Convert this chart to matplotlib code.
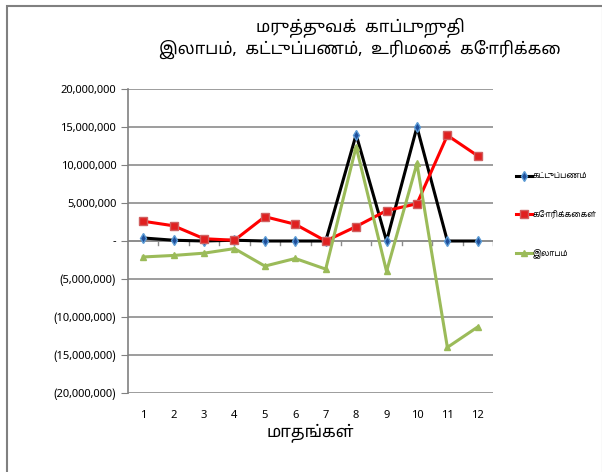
import matplotlib.pyplot as plt
from matplotlib.patches import Rectangle
from matplotlib.ticker import FuncFormatter

plt.rcParams['font.family'] = ['Noto Sans Tamil', 'Liberation Sans', 'DejaVu Sans']

# தரவு (மாதம் 1-12)
months = [1, 2, 3, 4, 5, 6, 7, 8, 9, 10, 11, 12]
kattuppanam = [400000, 100000, 0, 100000, 0, 0, 0, 14000000, 0, 15000000, 0, 0]
korikkaigal = [2600000, 2000000, 300000, 100000, 3200000, 2200000, 0, 1900000, 4000000, 4900000, 13900000, 11200000]
ilaabam = [-2100000, -1900000, -1600000, -1000000, -3300000, -2300000, -3700000, 12400000, -4000000, 10200000, -14000000, -11300000]

series_names = ['கட்டுப்பணம்', 'கோரிக்கைகள்', 'இலாபம்']
title_text = 'மருத்துவக்  காப்புறுதி\nஇலாபம்,  கட்டுப்பணம்,  உரிமைக்  கோரிக்கை'
xlabel_text = 'மாதங்கள்'


def fmt(v, pos):
    if v == 0:
        return '-'
    if v < 0:
        return '({:,.0f})'.format(-v)
    return '{:,.0f}'.format(v)


fig = plt.figure(figsize=(6.02, 4.72), dpi=100)
fig.patches.append(Rectangle((7 / 602, -0.01), 0.99, 0.998, transform=fig.transFigure,
                             fill=False, edgecolor='#808080', linewidth=1.5))
ax = fig.add_axes([128 / 602, 1 - 393 / 472, 365 / 602, 304 / 472])

ax.plot(months, kattuppanam, color='black', linewidth=2.2, marker='d', markersize=5,
        markerfacecolor='#1f4e9a', markeredgecolor='#5b9bd5', label=series_names[0], zorder=3)
ax.plot(months, korikkaigal, color='#ff0000', linewidth=2.2, marker='s', markersize=6,
        markerfacecolor='#e02020', markeredgecolor='#d06060', label=series_names[1], zorder=3)
ax.plot(months, ilaabam, color='#9bbb59', linewidth=2.2, marker='^', markersize=5,
        markerfacecolor='#9bbb59', markeredgecolor='#9bbb59', label=series_names[2], zorder=3)

ax.set_xlim(0.5, 12.5)
ax.set_ylim(-20000000, 20000000)
ax.set_yticks(range(-20000000, 20000001, 5000000))
ax.yaxis.set_major_formatter(FuncFormatter(fmt))
ax.set_xticks(months)
ax.tick_params(axis='x', length=0, labelsize=8, pad=12)
ax.tick_params(axis='y', length=5, color='#808080', labelsize=8, direction='out')
ax.grid(axis='y', color='#8c8c8c', linewidth=1.2)
ax.set_axisbelow(True)
for s in ['top', 'right', 'bottom']:
    ax.spines[s].set_visible(False)
ax.spines['left'].set_color('#808080')
ax.spines['left'].set_linewidth(1.2)

# zero line with category tick marks
ax.axhline(0, color='#8c8c8c', linewidth=1.2, zorder=1)
for b in [m + 0.5 for m in months]:
    ax.plot([b, b], [0, -500000], color='#8c8c8c', linewidth=1, zorder=1)

ax.set_xlabel(xlabel_text, fontsize=12, fontweight='bold', labelpad=2)
fig.text(360 / 602, 1 - 38 / 472, title_text, ha='center', va='center', fontsize=12,
         linespacing=1.25)

ax.legend(loc='center left', bbox_to_anchor=(1.055, 0.585), frameon=False, fontsize=5.8,
          handlelength=1.9, labelspacing=3.7, handletextpad=0.1, borderaxespad=0)

fig.savefig('out.png', dpi=100)
